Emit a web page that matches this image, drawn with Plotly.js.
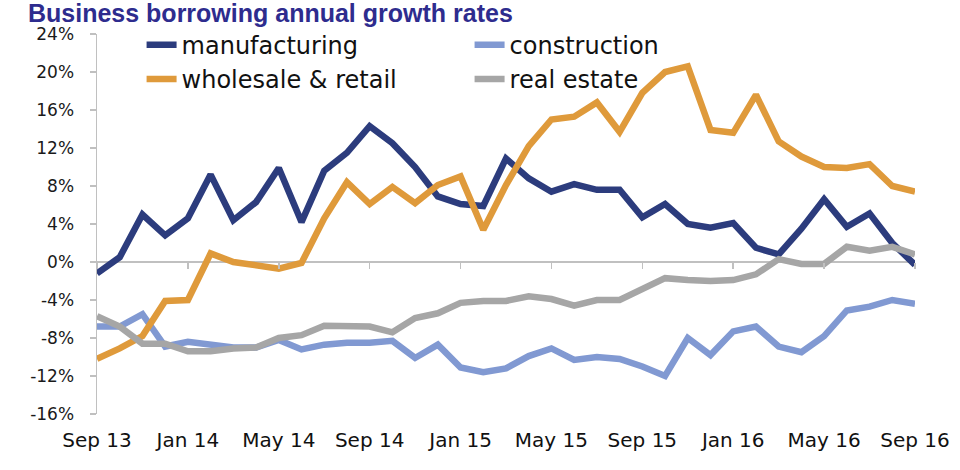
<!DOCTYPE html>
<html>
<head>
<meta charset="utf-8">
<script src="https://cdn.plot.ly/plotly-3.0.1.min.js"></script>
<style>html,body{margin:0;padding:0;background:#fff}#chart{width:960px;height:470px}</style>
</head>
<body>
<div id="chart"></div>
<script>
const months = ['Sep 13','Oct 13','Nov 13','Dec 13','Jan 14','Feb 14','Mar 14','Apr 14','May 14','Jun 14','Jul 14','Aug 14',
  'Sep 14','Oct 14','Nov 14','Dec 14','Jan 15','Feb 15','Mar 15','Apr 15','May 15','Jun 15','Jul 15','Aug 15',
  'Sep 15','Oct 15','Nov 15','Dec 15','Jan 16','Feb 16','Mar 16','Apr 16','May 16','Jun 16','Jul 16','Aug 16','Sep 16'];
const tickLabels = ['Sep 13','Jan 14','May 14','Sep 14','Jan 15','May 15','Sep 15','Jan 16','May 16','Sep 16'];
const yTickValues = [-16, -12, -8, -4, 0, 4, 8, 12, 16, 20, 24];
const yTickLabels = ['-16%', '-12%', '-8%', '-4%', '0%', '4%', '8%', '12%', '16%', '20%', '24%'];

const manufacturing = [-1.2, 0.5, 5.0, 2.8, 4.6, 9.2, 4.4, 6.3, 9.9, 4.2, 9.6, 11.5, 14.3, 12.5, 10.0, 6.9, 6.1, 5.9,
  10.9, 8.8, 7.4, 8.2, 7.6, 7.6, 4.7, 6.1, 4.0, 3.6, 4.1, 1.5, 0.8, 3.5, 6.6, 3.7, 5.1, 2.0, -0.3];
const construction = [-6.8, -6.8, -5.5, -8.9, -8.4, -8.7, -9.0, -9.0, -8.2, -9.2, -8.7, -8.5, -8.5, -8.3, -10.1, -8.7,
  -11.1, -11.6, -11.2, -9.9, -9.1, -10.3, -10.0, -10.2, -11.0, -12.0, -8.0, -9.8, -7.3, -6.8, -8.9, -9.5, -7.8, -5.1,
  -4.7, -4.0, -4.4];
const wholesaleRetail = [-10.2, -9.1, -7.8, -4.1, -4.0, 0.9, 0.0, -0.3, -0.7, -0.1, 4.6, 8.4, 6.1, 7.9, 6.2, 8.1, 9.0,
  3.4, 8.1, 12.2, 15.0, 15.3, 16.8, 13.7, 17.8, 20.0, 20.6, 13.9, 13.6, 17.6, 12.7, 11.1, 10.0, 9.9, 10.3, 8.0, 7.4];
const realEstate = [-5.7, -6.8, -8.6, -8.6, -9.4, -9.4, -9.1, -9.0, -8.0, -7.7, -6.7, -6.7, -6.8, -7.4, -5.9, -5.4,
  -4.3, -4.1, -4.1, -3.6, -3.9, -4.6, -4.0, -4.0, -2.9, -1.7, -1.9, -2.0, -1.9, -1.3, 0.3, -0.2, -0.2, 1.6, 1.2, 1.6, 0.8];

const seriesNames = ['manufacturing', 'construction', 'wholesale & retail', 'real estate'];
const seriesColors = ['#2c3c7d', '#8199d2', '#df9a3b', '#a6a6a6'];
const seriesData = [manufacturing, construction, wholesaleRetail, realEstate];

const traces = seriesData.map((vals, i) => ({
  type: 'scatter', mode: 'lines', x: months, y: vals, name: seriesNames[i],
  line: {color: seriesColors[i], width: 6.5, shape: 'linear'},
  hoverinfo: 'skip'
}));
// helper trace to carry the tick marks on the zero line
traces.push({type: 'scatter', mode: 'lines', x: [], y: [], xaxis: 'x2', yaxis: 'y', showlegend: false, hoverinfo: 'skip'});

const axisGray = '#c0c0c0';
const layout = {
  width: 960, height: 470,
  paper_bgcolor: '#ffffff', plot_bgcolor: '#ffffff',
  margin: {l: 97, r: 45, t: 34, b: 56, autoexpand: false},
  font: {family: 'DejaVu Sans, Arial, sans-serif', color: '#1a1a1a'},
  title: {
    text: 'Business borrowing annual growth rates',
    font: {family: 'Liberation Sans, Arial, sans-serif', size: 25, color: '#2e2c8e', weight: 'bold'},
    xref: 'container', yref: 'container', x: 28/960, xanchor: 'left', y: 1 - 4/470, yanchor: 'top'
  },
  showlegend: true,
  legend: {
    orientation: 'h', x: 0.0545, xanchor: 'left', y: 1.03, yanchor: 'top',
    font: {size: 24, color: '#111111'}, bgcolor: 'rgba(0,0,0,0)',
    entrywidth: 283, entrywidthmode: 'pixels', tracegroupgap: 0, itemwidth: 30
  },
  xaxis: {
    type: 'category', range: [0, 36], showgrid: false, zeroline: false, showline: false,
    tickmode: 'array', tickvals: tickLabels, ticktext: tickLabels, ticks: '',
    tickfont: {size: 20, color: '#111111'}, ticklabelstandoff: 12, fixedrange: true
  },
  xaxis2: {
    type: 'linear', range: [0, 36], overlaying: 'x', anchor: 'free', position: 0.4,
    showgrid: false, zeroline: false, showline: false, showticklabels: false,
    tickmode: 'linear', tick0: 0, dtick: 4, ticks: 'outside', ticklen: 6, tickwidth: 1.5, tickcolor: axisGray
  },
  yaxis: {
    range: [-16, 24], tickmode: 'array', tickvals: yTickValues, ticktext: yTickLabels, showgrid: false,
    zeroline: true, zerolinecolor: axisGray, zerolinewidth: 1.5,
    showline: true, linecolor: axisGray, linewidth: 1.5,
    ticks: 'outside', ticklen: 6, tickwidth: 1.5, tickcolor: axisGray,
    tickfont: {size: 17, color: '#1a1a1a'}, ticklabelstandoff: 12, fixedrange: true
  }
};

Plotly.newPlot('chart', traces, layout, {displayModeBar: false, staticPlot: true});
</script>
</body>
</html>
